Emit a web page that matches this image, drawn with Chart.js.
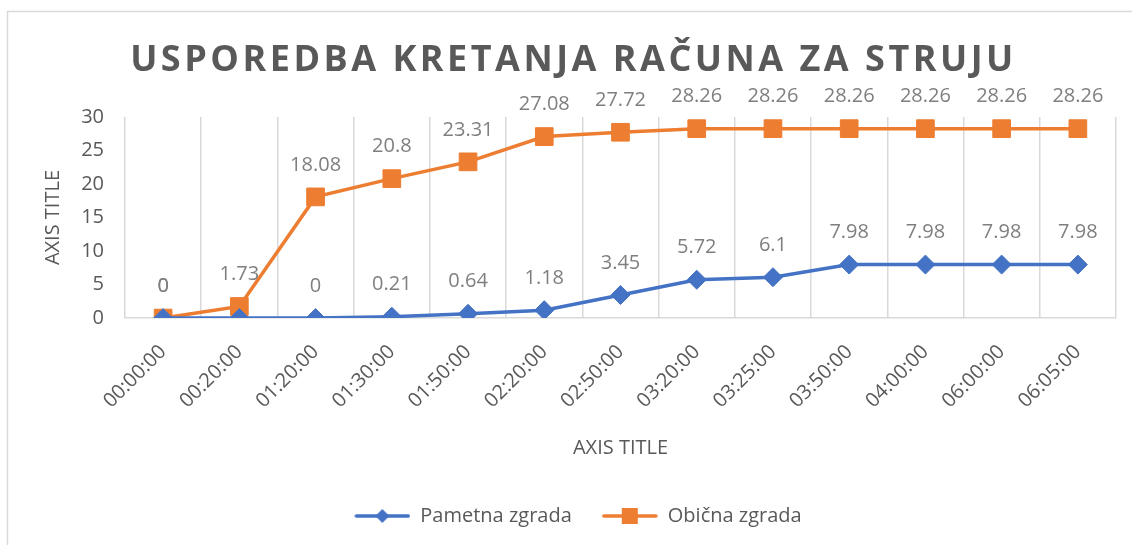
<!DOCTYPE html>
<html>
<head>
<meta charset="utf-8">
<script src="https://cdn.jsdelivr.net/npm/chart.js@4.4.0/dist/chart.umd.min.js"></script>
<style>
  html, body { margin: 0; padding: 0; background: #fff; }
  #wrap { width: 1132px; height: 545px; position: relative; }
  #title {
    position: absolute; left: 0; top: 38px; width: 1132px;
    text-align: center; padding-left: 15px; box-sizing: border-box;
    font: bold 36px 'Open Sans', sans-serif; line-height: 40px;
    letter-spacing: 3.5px; color: #595959; z-index: 2;
  }
</style>
</head>
<body>
<div id="wrap">
  <div id="title">USPOREDBA KRETANJA RAČUNA ZA STRUJU</div>
  <canvas id="chart"></canvas>
</div>
<script>
// data
const times = ["00:00:00", "00:20:00", "01:20:00", "01:30:00", "01:50:00", "02:20:00", "02:50:00",
               "03:20:00", "03:25:00", "03:50:00", "04:00:00", "06:00:00", "06:05:00"];
const pametna = [0, 0, 0, 0.21, 0.64, 1.18, 3.45, 5.72, 6.1, 7.98, 7.98, 7.98, 7.98];
const obicna = [0, 1.73, 18.08, 20.8, 23.31, 27.08, 27.72, 28.26, 28.26, 28.26, 28.26, 28.26, 28.26];
// label of the blue series at 00:20:00 is not shown in the original
const pametnaHiddenLabels = [1];

const BLUE = "#4472C4";
const ORANGE = "#ED7D31";
const TXT = "#595959";
const FONT = "'Open Sans', sans-serif";

// small canvas: line with marker, used as legend symbol (left part kept empty for spacing)
function legendIcon(color, style) {
    var c = document.createElement('canvas');
    c.width = 76; c.height = 18;
    var g = c.getContext('2d');
    g.strokeStyle = color;
    g.lineWidth = 3.5;
    g.lineCap = 'round';
    g.beginPath(); g.moveTo(22, 9); g.lineTo(74, 9); g.stroke();
    g.fillStyle = color;
    if (style === 'rect') {
        g.fillRect(48 - 8, 9 - 8, 16, 16);
    } else {
        g.beginPath();
        g.moveTo(48, 2); g.lineTo(55, 9); g.lineTo(48, 16); g.lineTo(41, 9);
        g.closePath(); g.fill();
    }
    return c;
}

const frame = {
    id: 'frame',
    beforeDraw(chart) {
        var ctx = chart.ctx;
        ctx.save();
        ctx.strokeStyle = '#d9d9d9';
        ctx.lineWidth = 1.5;
        ctx.beginPath();
        ctx.moveTo(7.5, 545); ctx.lineTo(7.5, 11.5); ctx.lineTo(1132, 11.5);
        ctx.stroke();
        ctx.restore();
    }
};

const valueLabels = {
    id: 'valueLabels',
    afterDatasetsDraw(chart) {
        var ctx = chart.ctx;
        ctx.save();
        ctx.font = "20px " + FONT;
        ctx.fillStyle = "#7f7f7f";
        ctx.textAlign = 'center';
        ctx.textBaseline = 'middle';
        chart.data.datasets.forEach(function (ds, di) {
            var meta = chart.getDatasetMeta(di);
            meta.data.forEach(function (pt, i) {
                if (di === 0 && pametnaHiddenLabels.indexOf(i) >= 0) return;
                ctx.fillText(String(ds.data[i]), pt.x, pt.y - 32);
            });
        });
        ctx.restore();
    }
};

new Chart(document.getElementById('chart'), {
    type: 'line',
    data: {
        labels: times,
        datasets: [{
            label: 'Pametna zgrada',
            data: pametna,
            borderColor: BLUE,
            backgroundColor: BLUE,
            borderWidth: 3.5,
            pointStyle: 'rectRot',
            pointRadius: 9.5,
            pointHoverRadius: 9.5,
            pointBorderWidth: 1,
            tension: 0
        }, {
            label: 'Obična zgrada',
            data: obicna,
            borderColor: ORANGE,
            backgroundColor: ORANGE,
            borderWidth: 3.5,
            pointStyle: 'rect',
            pointRadius: 12.5,
            pointHoverRadius: 12.5,
            pointBorderWidth: 1,
            tension: 0
        }]
    },
    options: {
        responsive: true,
        maintainAspectRatio: false,
        animation: false,
        events: [],
        layout: { padding: { left: 20, right: 16, top: 117, bottom: 9 } },
        plugins: {
            title: { display: false },
            legend: {
                position: 'bottom',
                labels: {
                    color: TXT,
                    font: { family: FONT, size: 20 },
                    usePointStyle: true,
                    pointStyleWidth: 76,
                    padding: 10,
                    generateLabels: function (chart) {
                        return chart.data.datasets.map(function (ds, i) {
                            return {
                                text: ds.label,
                                datasetIndex: i,
                                fontColor: TXT,
                                pointStyle: legendIcon(ds.borderColor, ds.pointStyle),
                                lineWidth: 0,
                                strokeStyle: 'transparent',
                                fillStyle: ds.borderColor
                            };
                        });
                    }
                }
            },
            tooltip: { enabled: false }
        },
        scales: {
            x: {
                offset: true,
                grid: { offset: true, color: '#d9d9d9', lineWidth: 1.5, drawTicks: false },
                border: { color: '#d9d9d9', width: 1.5 },
                ticks: {
                    color: TXT,
                    font: { family: FONT, size: 20 },
                    minRotation: 45,
                    maxRotation: 45,
                    autoSkip: false,
                    padding: 22
                },
                title: {
                    display: true,
                    text: 'AXIS TITLE',
                    color: TXT,
                    font: { family: FONT, size: 20 },
                    padding: { top: 1, bottom: 36 }
                }
            },
            y: {
                min: 0,
                max: 30,
                grid: { display: false, drawTicks: false },
                border: { display: false },
                ticks: {
                    stepSize: 5,
                    color: TXT,
                    font: { family: FONT, size: 20 },
                    padding: 21
                },
                title: {
                    display: true,
                    text: 'AXIS TITLE',
                    color: TXT,
                    font: { family: FONT, size: 20 },
                    padding: { top: 21, bottom: 4 }
                },
                afterFit: function (scale) { scale.width = 105; }
            }
        }
    },
    plugins: [frame, valueLabels]
});
</script>
</body>
</html>
